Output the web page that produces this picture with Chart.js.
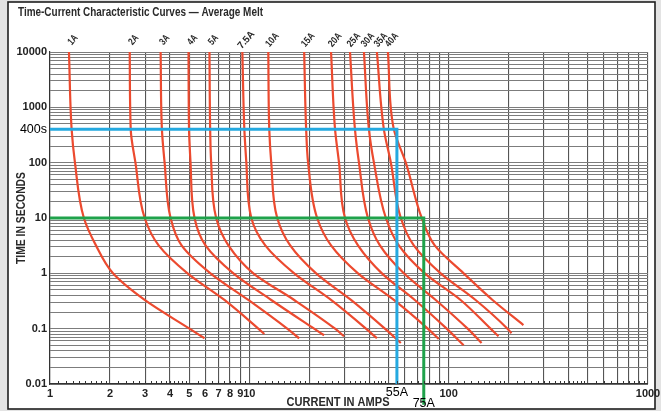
<!DOCTYPE html>
<html>
<head>
<meta charset="utf-8">
<script src="https://cdn.jsdelivr.net/npm/chart.js@4.4.1/dist/chart.umd.min.js"></script>
<style>
  html, body { margin: 0; padding: 0; background: #e2e2e2; }
  canvas { display: block; }
</style>
</head>
<body>
<canvas id="fuseChart" width="661" height="411"></canvas>
<script>
// fuse ratings, one melt curve each
const ratings = ['1A', '2A', '3A', '4A', '5A', '7.5A', '10A', '15A', '20A', '25A', '30A', '35A', '40A'];

const meltTimes = [10000, 400, 100, 10, 3.2, 1, 0.33, 0.1];

// current (A) of each curve at those times
const amps1A  = [1.245, 1.284, 1.334, 1.479, 1.70, 2.07, 2.985, 5.01];
const amps2A  = [2.512, 2.541, 2.683, 2.985, 3.508, 4.898, 7.50, 11.09];
const amps3A  = [3.589, 3.643, 3.758, 4.027, 4.571, 6.383, 9.886, 15.49];
const amps4A  = [4.955, 4.983, 5.070, 5.309, 6.026, 8.318, 12.88, 21.13];
const amps5A  = [6.310, 6.361, 6.435, 6.816, 7.852, 10.47, 16.79, 26.92];
const amps7A5 = [9.226, 9.441, 9.661, 10.23, 12.02, 16.79, 25.70, 38.46];
const amps10A = [12.45, 12.59, 12.88, 13.80, 16.03, 21.63, 32.36, 47.86];
const amps15A = [18.84, 19.28, 19.72, 21.88, 25.70, 35.08, 53.09, 78.52];
const amps20A = [25.70, 26.92, 28.18, 30.20, 35.08, 46.24, 67.61, 97.72];
const amps25A = [31.99, 33.88, 35.48, 39.36, 45.19, 59.57, 86.10, 124.5];
const amps30A = [37.58, 39.81, 42.17, 48.42, 56.23, 75.86, 114.8, 162.2];
const amps35A = [43.65, 47.32, 51.29, 57.54, 66.83, 91.20, 136.5, 197.2];
const amps40A = [49.55, 53.09, 60.95, 73.28, 85.11, 118.9, 166.0];

const curveAmps = [amps1A, amps2A, amps3A, amps4A, amps5A, amps7A5, amps10A,
                   amps15A, amps20A, amps25A, amps30A, amps35A, amps40A];

// where each curve stops at the bottom
const endAmps  = [5.96, 11.89, 17.78, 23.71, 29.85, 43.65, 57.54, 89.13, 118.9, 146.2, 177.8, 206.5, 237.1];
const endTimes = [0.067, 0.080, 0.067, 0.076, 0.073, 0.067, 0.055, 0.065, 0.050, 0.055, 0.073, 0.083, 0.116];

// the two marked read-outs
const blueAmps  = [1, 55, 55];
const blueTimes = [400, 400, 0.01];
const greenAmps  = [1, 75, 75];
const greenTimes = [10, 10, 0.0042];

// axis ticks
const xLabels = [1, 2, 3, 4, 5, 6, 7, 8, 9, 10, 100, 1000];
const yLabels = [0.01, 0.1, 1, 10, 100, 1000, 10000];

const RED = '#ec4a2f';
const BLUE = '#25a9e0';
const GREEN = '#1fa24b';
const SANS = '"Liberation Sans", Arial, Helvetica, sans-serif';

// 1..9 in every decade for the grid
function decadeGrid(lo, hi) {
  const out = [];
  for (let d = lo; d < hi * 0.999; d *= 10) {
    for (let k = 1; k <= 9; k++) out.push(+(d * k).toPrecision(6));
  }
  out.push(hi);
  return out;
}
const isLabelled = v => yLabels.some(l => Math.abs(l - v) < l * 1e-6);

const datasets = [];
datasets.push({
  label: '400s', data: blueAmps.map((a, i) => ({ x: a, y: blueTimes[i] })),
  borderColor: BLUE, borderWidth: 3, pointRadius: 0, tension: 0, order: 0
});
datasets.push({
  label: '10s', data: greenAmps.map((a, i) => ({ x: a, y: greenTimes[i] })),
  borderColor: GREEN, borderWidth: 3, pointRadius: 0, tension: 0, order: 0, clip: false
});
curveAmps.forEach((amps, i) => {
  const pts = amps.map((a, j) => ({ x: a, y: meltTimes[j] }));
  pts.push({ x: endAmps[i], y: endTimes[i] });
  datasets.push({
    label: ratings[i], data: pts, borderColor: RED, borderWidth: 2.2,
    pointRadius: 0, cubicInterpolationMode: 'monotone', order: 1
  });
});

const decor = {
  id: 'decor',
  beforeDraw(chart) {
    const ctx = chart.ctx;
    ctx.save();
    ctx.fillStyle = '#e3e3e3';
    ctx.fillRect(0, 0, chart.width, chart.height);
    ctx.fillStyle = '#ffffff';
    ctx.fillRect(8, 2, 647, 407);
    ctx.strokeStyle = '#1e1e1e';
    ctx.lineWidth = 1.6;
    ctx.strokeRect(8, 2, 647, 407);
    ctx.restore();
  },
  afterDraw(chart) {
    const ctx = chart.ctx;
    const xs = chart.scales.x, ys = chart.scales.y;
    const area = chart.chartArea;
    ctx.save();

    // little ticks sitting on the current axis
    ctx.strokeStyle = '#333';
    ctx.lineWidth = 1;
    for (let d = 1; d < 1000; d *= 10) {
      const steps = [];
      for (let v = 1.1; v < 2; v += 0.1) steps.push(v);
      for (let v = 2.2; v < 5; v += 0.2) steps.push(v);
      for (let v = 5.5; v < 10; v += 0.5) steps.push(v);
      steps.forEach(s => {
        const px = Math.round(xs.getPixelForValue(s * d)) + 0.5;
        ctx.beginPath();
        ctx.moveTo(px, area.bottom);
        ctx.lineTo(px, area.bottom - 3);
        ctx.stroke();
      });
    }

    // title (squeezed like the condensed face of the original)
    ctx.fillStyle = '#2a2a2a';
    ctx.font = 'bold 12px ' + SANS;
    ctx.textAlign = 'left';
    ctx.textBaseline = 'middle';
    ctx.fillText('Time-Current Characteristic Curves \u2014 Average Melt', 18, 13, 245);

    // axis titles
    ctx.font = 'bold 12px ' + SANS;
    ctx.textAlign = 'center';
    ctx.fillText('CURRENT IN AMPS', 338, 403, 103);
    ctx.save();
    ctx.translate(22, 218);
    ctx.rotate(-Math.PI / 2);
    ctx.fillText('TIME IN SECONDS', 0, 0, 92);
    ctx.restore();

    // fuse ratings above each curve
    ctx.font = 'bold 10px ' + SANS;
    ratings.forEach((r, i) => {
      const px = xs.getPixelForValue(curveAmps[i][0]);
      ctx.save();
      ctx.translate(px + 4, 40);
      ctx.rotate(-0.85);
      ctx.fillText(r, 0, 0, r.length * 5);
      ctx.restore();
    });

    // read-out labels
    ctx.fillStyle = '#000';
    ctx.font = '12.5px ' + SANS;
    ctx.textAlign = 'right';
    ctx.fillText('400s', 47, ys.getPixelForValue(blueTimes[0]));
    ctx.textAlign = 'center';
    ctx.fillText('55A', xs.getPixelForValue(blueAmps[1]), 393);
    ctx.fillText('75A', xs.getPixelForValue(greenAmps[1]), 404);
    ctx.restore();
  }
};

new Chart(document.getElementById('fuseChart'), {
  type: 'line',
  data: { datasets },
  plugins: [decor],
  options: {
    indexAxis: 'y',
    responsive: false,
    devicePixelRatio: 1,
    animation: false,
    layout: { padding: { left: 8, right: 13, top: 52, bottom: 2 } },
    plugins: { legend: { display: false }, tooltip: { enabled: false }, title: { display: false } },
    scales: {
      x: {
        type: 'logarithmic', min: 1, max: 1000,
        afterBuildTicks: s => { s.ticks = decadeGrid(1, 1000).map(v => ({ value: v })); },
        afterFit: s => { s.height = 25; s.paddingLeft = 0; s.paddingRight = 0; },
        ticks: {
          autoSkip: false, maxRotation: 0, padding: 3, color: '#222',
          font: { family: SANS, size: 11, weight: 'bold' },
          callback: v => xLabels.includes(v) ? String(v) : ''
        },
        grid: { color: '#555', lineWidth: 1.1, drawTicks: false },
        border: { color: '#333', width: 1.2 }
      },
      y: {
        type: 'logarithmic', min: 0.01, max: 10000,
        afterBuildTicks: s => { s.ticks = decadeGrid(0.01, 10000).map(v => ({ value: v })); },
        afterFit: s => { s.width = 42; s.paddingTop = 0; s.paddingBottom = 0; },
        ticks: {
          autoSkip: false, padding: 3, color: '#222',
          font: { family: SANS, size: 11, weight: 'bold' },
          callback: v => isLabelled(v) ? String(v) : ''
        },
        grid: { color: '#7c7c7c', lineWidth: 1, drawTicks: false },
        border: { color: '#333', width: 1.2 }
      }
    }
  }
});
</script>
</body>
</html>
